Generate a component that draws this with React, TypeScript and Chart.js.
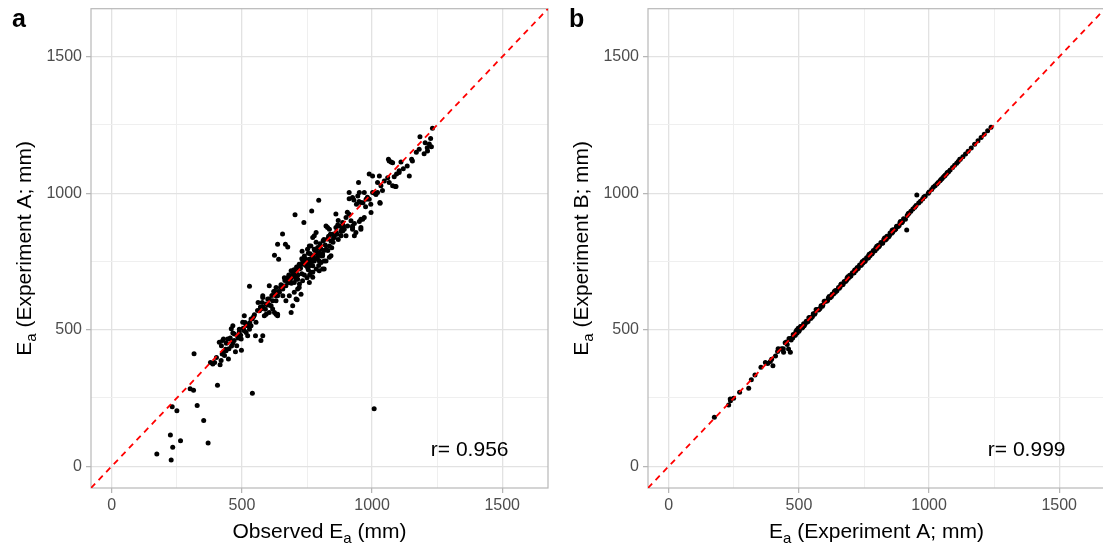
import React, { useEffect, useRef } from "react";
import { Chart, registerables } from "chart.js";

Chart.register(...registerables);

// ---------- axes ----------
const gridValues = [0, 250, 500, 750, 1000, 1250, 1500];
const labelValues = [0, 500, 1000, 1500];
const axisMin = -80;
const axisMax = 1676;

// ---------- panel a: Observed Ea (x) vs Experiment A (y) ----------
const panelA_observed = [
  173, 228, 234, 225, 264, 370, 353, 328, 232, 250, 301, 314, 406, 540, 316, 1008,
  379, 395, 416, 448, 424, 439, 413, 429, 421, 453, 465, 480, 475, 498, 497, 490, 503, 509, 465, 459,
  516, 529, 522, 535, 552, 573, 554, 567, 580, 599, 618, 625, 637, 593, 605, 631, 433, 420, 388, 471,
  445, 426, 509, 490, 535, 586, 580, 529, 580, 599, 522, 465, 562, 580, 618, 631, 637, 605,
  644, 657, 631, 612, 593, 573, 682, 695, 708, 689, 669, 637,
  631, 657, 676, 695, 689, 708, 721, 714, 701, 727,
  733, 746, 759, 752, 772, 765, 785, 778, 797, 791, 810, 804, 823, 836, 829, 842, 848, 861, 836, 823,
  778, 759, 785, 874, 887, 900, 912, 893, 816, 836, 797, 816, 772, 759, 925, 938,
  772, 785, 791, 778, 765, 752, 797, 810, 804, 823, 842, 772, 746, 733, 759, 772, 810, 720, 708, 695,
  701, 714, 733, 720, 682, 669,
  795, 704, 768, 738, 656, 637, 667, 676, 625, 641, 731, 605, 712, 861,
  1232, 1184, 1204, 1212, 1181, 1200, 1152, 1063, 1073, 1111, 1104, 1094, 1143, 1092, 948, 1021, 932,
  957, 925, 964, 951, 996, 1031, 1213, 1066, 1079, 1155, 989, 1002, 1028, 1047, 1060, 1034, 1021,
  1079, 1066, 1104, 1089, 1030, 912, 925, 951, 970, 977, 957, 989, 1002,
  906, 919, 884, 957, 970, 925, 957, 932, 900, 881, 912, 930, 945, 950, 965, 982, 829, 861, 887,
  1225, 1220, 1228,
  740, 755, 765, 780, 790, 800, 805, 815, 745, 725, 715, 700, 690, 680, 760, 775, 795, 820, 830, 850,
  855, 845, 865, 870, 880, 890, 840, 815, 800, 785, 770, 755, 740, 730, 750, 760, 740, 730, 720, 710,
  705, 690, 675, 665, 660, 650, 640, 625, 615, 605, 590, 578, 560, 548, 540, 530, 515, 505, 495, 485,
  470, 460, 450, 440, 430, 1120, 1135, 1170, 1040, 1015, 995, 975, 1085, 1010, 870, 905, 940,
  402, 437, 455, 484, 512, 545, 571, 598, 622, 648, 663, 687, 712, 736, 762, 788, 812, 833, 852, 868,
];
const panelA_expA = [
  45, 23, 69, 114, 93, 85, 167, 222, 218, 203, 284, 278, 296, 267, 412, 210,
  380, 380, 372, 393, 411, 423, 454, 466, 441, 466, 451, 441, 419, 425, 466, 492, 527, 551, 488, 503,
  490, 502, 478, 514, 478, 460, 527, 569, 582, 594, 606, 563, 551, 557, 612, 624, 405, 387, 374, 484,
  466, 460, 496, 502, 539, 551, 478, 659, 624, 612, 514, 514, 600, 618, 576, 557, 624, 563,
  637, 624, 606, 588, 594, 576, 624, 588, 612, 563, 606, 557,
  655, 649, 673, 704, 716, 685, 667, 649, 637, 630,
  740, 746, 758, 728, 734, 710, 722, 752, 752, 771, 777, 795, 795, 807, 832, 825, 850, 856, 868, 880,
  844, 807, 856, 880, 893, 911, 923, 868, 752, 765, 716, 722, 692, 673, 880, 856,
  838, 820, 801, 795, 807, 795, 783, 771, 746, 752, 771, 771, 758, 746, 734, 710, 722, 722, 710, 697,
  673, 685, 679, 655, 673, 661,
  974, 921, 935, 893, 851, 813, 813, 803, 773, 758, 787, 661, 610, 924,
  1238, 1207, 1185, 1167, 1161, 1145, 1124, 1124, 1114, 1114, 1082, 1070, 1063, 1025, 1039, 1003, 889,
  874, 874, 905, 896, 929, 963, 1155, 1118, 1112, 1118, 1070, 1063, 1063, 1045, 1057, 1027, 1039,
  1027, 1039, 1076, 1025, 966, 1003, 984, 1003, 1003, 978, 966, 978, 1003,
  880, 899, 868, 905, 911, 868, 868, 844, 844, 844, 980, 975, 990, 970, 965, 985, 874, 874, 862,
  1200, 1180, 1170,
  770, 780, 760, 790, 760, 800, 770, 790, 735, 725, 700, 720, 690, 700, 745, 765, 735, 810, 790, 820,
  840, 800, 850, 830, 860, 880, 850, 830, 815, 790, 750, 720, 700, 705, 690, 700, 760, 760, 740, 730,
  695, 670, 690, 680, 660, 665, 640, 640, 625, 590, 575, 600, 570, 555, 540, 525, 520, 505, 480, 470,
  460, 440, 430, 450, 420, 1090, 1100, 1150, 1010, 995, 960, 950, 1060, 1000, 900, 930, 960,
  398, 428, 470, 476, 526, 548, 583, 590, 640, 655, 690, 676, 728, 748, 778, 780, 826, 842, 836, 884,
];

// ---------- panel b: Experiment A (x) vs Experiment B (y) ----------
const panelB_expA = [
  175, 230, 237, 249, 272, 307, 317, 331, 354, 371, 390, 400, 410, 418, 425, 433, 441, 447, 452, 460,
  467, 472, 478, 483, 488, 493, 497, 502, 508, 512, 518, 523, 528, 535, 541, 548, 555, 562, 570, 577,
  585, 592, 600, 606, 613, 620, 627, 633, 640, 646, 652, 658, 663, 668, 674, 679, 685, 690, 695, 700,
  705, 710, 714, 719, 724, 728, 733, 737, 742, 746, 751, 755, 760, 764, 768, 773, 777, 782, 786, 790,
  795, 800, 805, 810, 815, 820, 826, 832, 838, 844, 850, 856, 862, 868, 875, 881, 888, 895, 902, 909,
  914, 916, 923, 930, 938, 945, 953, 960, 967, 975, 985, 997, 1010, 1023, 1035, 1042, 1050, 1055, 1062, 1068,
  1075, 1081, 1090, 1098, 1106, 1112, 1120, 1130, 1140, 1150, 1162, 1175, 1188, 1200, 1212, 1225, 1238,
  380, 395, 440, 455, 470, 486, 500, 515, 530, 545, 560, 575, 590, 610, 625, 640, 655, 670, 683, 697,
  712, 726, 740, 753, 767, 780, 793, 807, 822, 836, 848, 860, 872, 885, 898, 1000, 1030, 1046, 1060,
  236, 420, 436, 462, 476, 491, 506, 520, 538, 552, 566, 581, 597, 616, 636, 661, 688, 716, 744, 770,
  799, 829, 858, 890, 920, 950, 980, 1016, 1070, 1118,
];
const panelB_expB = [
  179, 224, 240, 249, 271, 285, 317, 334, 362, 380, 383, 368, 404, 420, 428, 430, 417, 452, 455, 429,
  417, 470, 482, 480, 492, 488, 505, 500, 512, 506, 522, 520, 531, 530, 545, 545, 558, 560, 573, 575,
  588, 590, 604, 604, 616, 617, 630, 631, 644, 643, 655, 656, 667, 665, 677, 677, 689, 688, 699, 698,
  709, 708, 718, 717, 728, 726, 737, 735, 746, 744, 755, 753, 764, 762, 772, 771, 781, 780, 790, 788,
  799, 797, 809, 808, 819, 817, 830, 829, 842, 840, 854, 853, 866, 865, 879, 878, 892, 892, 906, 905,
  865, 918, 927, 934, 942, 949, 993, 964, 971, 979, 989, 1000, 1014, 1027, 1039, 1046, 1054, 1059, 1066, 1072,
  1079, 1085, 1094, 1102, 1110, 1116, 1124, 1134, 1144, 1154, 1166, 1179, 1192, 1204, 1216, 1229, 1242,
  376, 392, 430, 446, 462, 480, 494, 510, 527, 541, 557, 572, 586, 607, 622, 637, 652, 667, 681, 695,
  709, 723, 737, 750, 764, 777, 790, 804, 818, 832, 845, 857, 869, 882, 895, 1004, 1034, 1050, 1064,
  246, 430, 428, 468, 470, 498, 512, 514, 544, 548, 574, 578, 604, 622, 640, 666, 694, 720, 750, 776,
  806, 836, 864, 896, 926, 955, 986, 1022, 1076, 1124,
];

type Part = { t: string; sub?: boolean };
const FONT = "'Liberation Sans', Arial, sans-serif";

function drawRich(ctx: CanvasRenderingContext2D, parts: Part[], size: number, subSize: number, subShift: number) {
  let total = 0;
  const widths: number[] = [];
  for (const p of parts) {
    ctx.font = `${p.sub ? subSize : size}px ${FONT}`;
    const w = ctx.measureText(p.t).width;
    widths.push(w);
    total += w;
  }
  let x = -total / 2;
  ctx.textAlign = "left";
  ctx.textBaseline = "alphabetic";
  parts.forEach((p, i) => {
    ctx.font = `${p.sub ? subSize : size}px ${FONT}`;
    ctx.fillText(p.t, x, p.sub ? subShift : 0);
    x += widths[i];
  });
}

function makeConfig(xs: number[], ys: number[], panel: string, rText: string, xTitle: Part[], yTitle: Part[]) {
  const points = xs.map((x, i) => ({ x, y: ys[i] }));
  const decor = {
    id: "decor",
    beforeDatasetsDraw(chart: any) {
      const { ctx, chartArea: a } = chart;
      ctx.save();
      ctx.strokeStyle = "#b8b8b8";
      ctx.lineWidth = 1.2;
      ctx.strokeRect(a.left, a.top, a.right - a.left, a.bottom - a.top);
      ctx.restore();
    },
    afterDraw(chart: any) {
      const { ctx, chartArea: a, scales } = chart;
      ctx.save();
      ctx.fillStyle = "#000";
      ctx.font = `21px ${FONT}`;
      ctx.textAlign = "center";
      ctx.textBaseline = "middle";
      ctx.fillText(rText, scales.x.getPixelForValue(1375), scales.y.getPixelForValue(60));
      ctx.font = `bold 25px ${FONT}`;
      ctx.textAlign = "left";
      ctx.textBaseline = "alphabetic";
      ctx.fillText(panel, 12, 26.5);
      ctx.save();
      ctx.translate((a.left + a.right) / 2, 537.5);
      drawRich(ctx, xTitle, 21, 15, 5);
      ctx.restore();
      ctx.save();
      ctx.translate(30.5, (a.top + a.bottom) / 2);
      ctx.rotate(-Math.PI / 2);
      drawRich(ctx, yTitle, 21, 15, 5);
      ctx.restore();
      ctx.restore();
    },
  };

  const isMajor = (v: number) => labelValues.includes(v);
  const axis = (axisName: "x" | "y") => ({
    type: "linear" as const,
    min: axisMin,
    max: axisMax,
    afterBuildTicks(scale: any) {
      scale.ticks = gridValues.map((v) => ({ value: v }));
    },
    afterFit(scale: any) {
      if (axisName === "x") {
        scale.height = 56;
        scale.paddingLeft = 0;
        scale.paddingRight = 0;
      } else {
        scale.width = 91;
        scale.paddingTop = 0;
        scale.paddingBottom = 0;
      }
    },
    border: { display: false },
    grid: {
      color: (ctx: any) => (isMajor(ctx.tick.value) ? "#e2e2e2" : "#efefef"),
      lineWidth: (ctx: any) => (isMajor(ctx.tick.value) ? 1.3 : 1),
      tickColor: (ctx: any) => (isMajor(ctx.tick.value) ? "#b3b3b3" : "rgba(0,0,0,0)"),
      tickLength: 5,
      tickWidth: 1.2,
    },
    ticks: {
      autoSkip: false,
      maxRotation: 0,
      color: "#4d4d4d",
      font: { family: FONT, size: 16 },
      padding: axisName === "x" ? 3 : 4,
      callback: (v: any) => (isMajor(Number(v)) ? String(v) : ""),
    },
    title: { display: false },
  });

  return {
    type: "scatter" as const,
    data: {
      datasets: [
        {
          type: "line" as const,
          data: [
            { x: axisMin, y: axisMin },
            { x: axisMax, y: axisMax },
          ],
          borderColor: "#ff0000",
          borderWidth: 1.8,
          borderDash: [6, 5],
          pointRadius: 0,
          fill: false,
        },
        {
          data: points,
          backgroundColor: "#000000",
          borderWidth: 0,
          pointRadius: 2.5,
          pointHoverRadius: 2.5,
        },
      ],
    },
    options: {
      animation: false as const,
      responsive: false,
      devicePixelRatio: 1,
      events: [],
      layout: { padding: { top: 8.7, right: 9, left: 0, bottom: 0 } },
      plugins: { legend: { display: false }, tooltip: { enabled: false } },
      scales: { x: axis("x"), y: axis("y") },
    },
    plugins: [decor],
  };
}

function Panel({ left, xs, ys, panel, rText, xTitle, yTitle }: any) {
  const ref = useRef<HTMLCanvasElement>(null);
  useEffect(() => {
    const chart = new Chart(ref.current as HTMLCanvasElement, makeConfig(xs, ys, panel, rText, xTitle, yTitle) as any);
    return () => chart.destroy();
  }, []);
  return (
    <canvas
      ref={ref}
      width={557}
      height={544}
      style={{ position: "absolute", left, top: 0, width: 557, height: 544 }}
    />
  );
}

export default function App() {
  return (
    <div style={{ position: "absolute", left: 0, top: 0, width: 1103, height: 544, overflow: "hidden", background: "#fff" }}>
      <Panel
        left={0}
        xs={panelA_observed}
        ys={panelA_expA}
        panel="a"
        rText="r= 0.956"
        xTitle={[{ t: "Observed E" }, { t: "a", sub: true }, { t: " (mm)" }]}
        yTitle={[{ t: "E" }, { t: "a", sub: true }, { t: " (Experiment A; mm)" }]}
      />
      <Panel
        left={557}
        xs={panelB_expA}
        ys={panelB_expB}
        panel="b"
        rText="r= 0.999"
        xTitle={[{ t: "E" }, { t: "a", sub: true }, { t: " (Experiment A; mm)" }]}
        yTitle={[{ t: "E" }, { t: "a", sub: true }, { t: " (Experiment B; mm)" }]}
      />
    </div>
  );
}
